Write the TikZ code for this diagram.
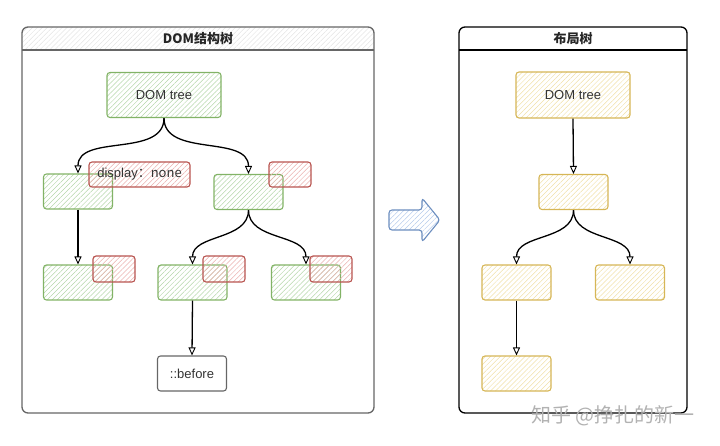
\documentclass[tikz,border=0pt]{standalone}
\usepackage{fontspec}
\setmainfont{Liberation Sans}
\newfontfamily\cjk{Noto Sans CJK SC}
\usetikzlibrary{arrows.meta,patterns.meta}
\definecolor{grline}{HTML}{82B366}
\definecolor{grhatch}{HTML}{B5D6AA}
\definecolor{rdline}{HTML}{B85450}
\definecolor{rdhatch}{HTML}{EAB0AE}
\definecolor{ylline}{HTML}{D6B656}
\definecolor{ylhatch}{HTML}{F0E0A8}
\definecolor{blline}{HTML}{6C8EBF}
\definecolor{blhatch}{HTML}{B5CBEC}
\definecolor{gyline}{HTML}{666666}
\definecolor{gyhatch}{HTML}{FFFFFF}
\definecolor{tlhatch}{HTML}{E4E4E4}
\definecolor{txt}{HTML}{333333}
\tikzset{
  hatch/.style={pattern={Lines[angle=45,distance=3.5pt,line width=0.5pt]},pattern color=#1},
  box/.style={draw=#1line,line width=1.1pt,rounded corners=3pt,
    preaction={hatch=#1hatch},minimum width=69pt,minimum height=35pt,
    inner sep=0pt,text=txt,font=\fontsize{13}{15}\selectfont},
  tag/.style={box=rd,minimum width=42pt,minimum height=26pt},
  conn/.style={-{Triangle[open,length=8pt,width=7pt,line width=0.9pt]},line width=1.3pt},
  title/.style={font=\cjk\bfseries\fontsize{13}{15}\selectfont,text=black!85}
}
\begin{document}
\begin{tikzpicture}[x=1pt,y=-1pt]
  \useasboundingbox (0,0) rectangle (720,446);
  % panels
  \begin{scope}
    \clip (22,27) rectangle (374,50);
    \path[hatch=tlhatch,rounded corners=6pt] (22,27) rectangle (374,60);
  \end{scope}
  \draw[gyline,line width=1.3pt,rounded corners=6pt] (22,27) rectangle (374,413);
  \draw[gyline,line width=1.3pt] (22,50) -- (374,50);
  \draw[black,line width=1.3pt,rounded corners=6pt] (459,27) rectangle (687,413);
  \draw[black,line width=1.3pt] (459,50) -- (687,50);
  \node[title] (tL) at (198,39) {DOM结构树};
  \node[title] (tR) at (573,39) {布局树};
  % DOM tree
  \node[box=gr,minimum width=114pt,minimum height=45pt] (domL) at (164,95) {DOM tree};
  \node[box=gr] (aL) at (78,191.5) {};
  \node[box=gr] (bL) at (248.5,192) {};
  \node[box=gr] (cL) at (78,282.5) {};
  \node[box=gr] (dL) at (192.5,282.5) {};
  \node[box=gr] (eL) at (306,282.5) {};
  \node[box=gy] (bef) at (192,373.5) {::before};
  \node[tag,minimum width=101pt,minimum height=25pt] (aTag) at (139.5,174.5) {display\cjk{：}none};
  \node[tag,minimum height=25pt] (bTag) at (290,174.5) {};
  \node[tag] (cTag) at (114,269) {};
  \node[tag] (dTag) at (224,269) {};
  \node[tag] (eTag) at (331,269) {};
  % layout tree
  \node[box=yl,minimum width=114pt,minimum height=46pt] (domR) at (573,95) {DOM tree};
  \node[box=yl] (fR) at (573.5,192) {};
  \node[box=yl] (gR) at (516.5,282.5) {};
  \node[box=yl] (hR) at (630,282.5) {};
  \node[box=yl] (iR) at (516.5,373.5) {};
  \begin{scope}[conn]
    \draw (domL.south) to[out=-90,in=90] (aL.north);
    \draw (domL.south) to[out=-90,in=90] (bL.north);
    \draw (aL.south) to (cL.north);
    \draw (bL.south) to[out=-90,in=90] (dL.north);
    \draw (bL.south) to[out=-90,in=90] (eL.north);
    \draw (dL.south) to (bef.north);
    \draw (domR.south) to (fR.north);
    \draw (fR.south) to[out=-90,in=90] (gR.north);
    \draw (fR.south) to[out=-90,in=90] (hR.north);
    \draw (gR.south) to (iR.north);
  \end{scope}
  % big arrow
  \draw[blline,line width=1.1pt,rounded corners=3pt,preaction={hatch=blhatch}]
    (389,210) -- (422,210) -- (422,198) -- (440,220) -- (422,242) -- (422,230) -- (389,230) -- cycle;
  \node[font=\cjk\fontsize{20}{22}\selectfont,text=black!30] (mark) at (613,416) {知乎 @挣扎的新一};
\end{tikzpicture}
\end{document}
